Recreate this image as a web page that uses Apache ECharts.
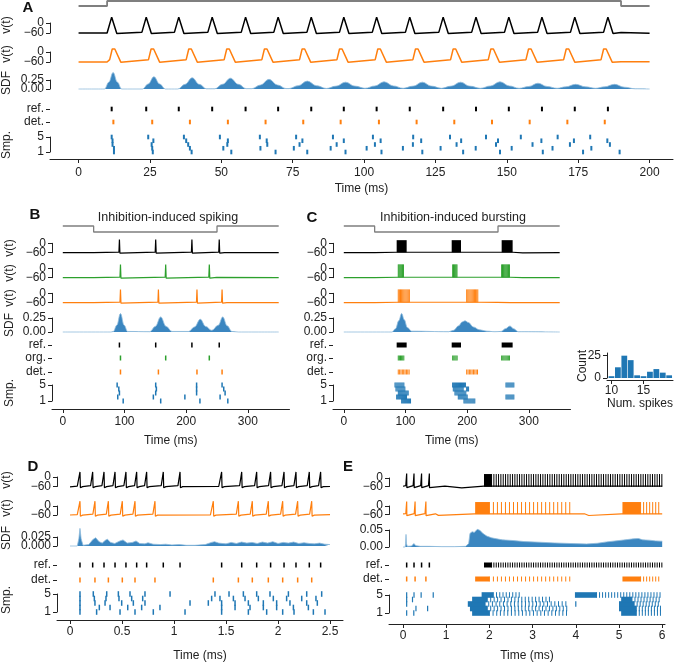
<!DOCTYPE html>
<html><head><meta charset="utf-8">
<script src="https://cdn.jsdelivr.net/npm/echarts@6/dist/echarts.min.js"></script>
<style>html,body{margin:0;padding:0;background:#fff}#c{width:685px;height:663px}</style>
</head><body><div id="c"></div>
<script>
const FONT='"Liberation Sans", Arial, Helvetica, sans-serif';
// ---------------- Panel A data ----------------
const A_stim=[[0,0],[10,0],[10,1],[190,1],[190,0],[200,0]];
const A_ref=[11.6,23.7,35.1,46.8,58.5,69.9,81.5,92.9,104.4,116.0,127.7,139.2,150.7,162.3,173.8,185.4];
const A_det=[12.2,25.8,39.0,52.3,65.5,78.7,91.8,105.2,118.4,131.6,144.8,158.0,171.2,184.3];
const A_smp5=[11.6,24.4,36.9,49.5,63.5,76.2,89.1,103.1,117.2,130.1,142.7,154.9,167.8,179.2];
const A_smp4=[11.9,26.2,37.7,52.3,65.9,78.4,92.9,105.8,120.0,134.0,146.9,162.1,173.5,185.2];
const A_smp3=[11.9,25.6,38.4,52.1,66.1,77.4,90.4,103.8,117.1,132.4,146.2,159.0,172.1,186.1];
const A_smp2=[12.4,25.8,39.0,50.7,63.7,75.4,88.3,100.9,113.6,126.8,139.1,151.7,166.0,179.6];
const A_smp1=[12.4,26.0,39.6,53.5,69.0,80.1,93.5,106.1,120.4,134.7,147.6,162.6,176.7,189.5];
const A_blackBase=[[0,-60],[10,-60],[190,-57],[190.3,-62],[200,-62]];
const A_blackShape=[[-1.5,-55],[0,35],[1.8,-63]];
const A_orangeBase=[[0,-60],[10,-60],[190,-58],[200,-58]];
const A_orangeShape=[[-1.3,-46],[-0.4,18],[0,30],[0.5,18],[2.6,-61]];
const A_sdf=[[0,0],[9.1,0],[10.6,0.19],[12.1,0.46],[13.6,0.19],[15.1,0],[22.4,0],[24.4,0.14],[26.4,0.34],[28.4,0.14],[30.4,0],[34.8,0],[37.3,0.13],[39.8,0.31],[42.3,0.13],[44.8,0.005],[47.7,0.005],[50.4,0.13],[53.2,0.30],[56,0.13],[58.7,0.01],[60.7,0.01],[63.7,0.11],[66.7,0.27],[69.7,0.11],[72.7,0.012],[73.6,0.012],[76.9,0.09],[80.1,0.22],[83.4,0.09],[86.8,0.015],[90.2,0.08],[93.5,0.19],[96.8,0.08],[100.3,0.02],[103.8,0.085],[107,0.2],[110.3,0.085],[113.7,0.02],[117.2,0.08],[120.4,0.19],[123.6,0.08],[127.1,0.02],[130.5,0.08],[133.8,0.19],[137,0.08],[140.7,0.02],[144.3,0.085],[147.6,0.2],[150.9,0.085],[154.3,0.02],[157.7,0.07],[160.9,0.16],[164.1,0.07],[167.6,0.02],[170.6,0.06],[174.1,0.13],[177.6,0.06],[181.1,0.02],[184.2,0.06],[187.7,0.13],[191.2,0.05],[195,0.005],[200,0]];
const A_xticks=[0,25,50,75,100,125,150,175,200];
// ---------------- Panel B data ----------------
const B_stim=[[0,1],[50,1],[50,0],[250,0],[250,1],[350,1]];
const B_ref=[91.8,150.6,209.3,253.6];
const B_org=[93.5,166.8,237.5];
const B_det=[93.5,155.0,217.5,258.2];
const B_smp5=[88.1,150.6,216.9,258.2];
const B_smp4=[90.8,151.7,216.9,260.9];
const B_smp3=[91.8,150.6,216.9,263.1];
const B_smp2=[89.1,146.8,197.9,255.0];
const B_smp1=[97.9,158.7,222.3,267.5];
const B_blackBase=[[0,-60],[50,-60],[50.5,-66],[262,-60],[350,-60]];
const B_greenBase=[[0,-60],[50,-60],[50.5,-66],[249.5,-58],[251,-60],[350,-60]];
const B_orangeBase=[[0,-60],[50,-60],[50.5,-66],[266,-60],[350,-60]];
const B_shape=[[-0.8,-56],[0,24],[0.8,-63]];
const B_sdf=[[0,0],[78,0],[82,0.01],[87.5,0.12],[93.5,0.33],[99.5,0.12],[105,0.01],[141,0.005],[150,0.1],[158.7,0.27],[167.5,0.1],[177,0.01],[204,0.01],[213.5,0.09],[222.9,0.227],[231.5,0.1],[241.5,0.03],[252,0.12],[259.3,0.27],[266.5,0.11],[274,0.01],[285,0],[350,0]];
const BC_xticks=[0,100,200,300];
// ---------------- Panel C data ----------------
const C_stim=[[0,1],[50,1],[50,0],[250,0],[250,1],[350,1]];
const C_ref=[[85.7,101.9],[174.9,190.0],[255.9,273.7]];
const C_org=[[88.3,97.6],[176.5,184.0],[255.9,269.4]];
const C_det=[[88.3,107.3],[199.2,218.0]];
const C_smp5=[[83.0,97.6],[176.4,198.0],[262.9,276.4]];
const C_smp4=[[84.6,99.2],[177.5,193.7],[199.1,203.5]];
const C_smp3=[[88.4,104.6],[180.2,199.1]];
const C_smp2=[[85.7,101.9],[185.6,200.2],[262.9,275.9]];
const C_smp1=[[93.8,108.9],[194.8,212.6]];
const C_blackBase=[[0,-60],[50,-60],[50.5,-65],[276,-66],[290,-61],[350,-60]];
const C_greenBase=[[0,-60],[50,-60],[50.5,-65],[272,-63],[290,-60],[350,-60]];
const C_orangeBase=[[0,-60],[50,-60],[50.5,-65],[249,-58],[250.5,-62],[270,-60],[350,-60]];
const C_sdf=[[0,0],[78,0],[84,0.06],[89,0.2],[93.8,0.33],[98,0.22],[103,0.08],[110,0.015],[170,0.005],[178,0.03],[186,0.11],[192,0.18],[196.4,0.2],[202,0.17],[210,0.09],[220,0.04],[232,0.015],[245,0.005],[255,0.01],[262,0.06],[269.4,0.107],[275,0.06],[283,0.005],[350,0]];
const H_bins=[10,11,12,13,14,15,16,17,18,19];
const H_counts=[2,12,25,20,3,2,7,10,6,3];
// ---------------- Panel D data ----------------
const D_ref=[0.096,0.218,0.327,0.433,0.538,0.641,0.737,0.897,1.058,1.458,1.651,1.795,1.929,2.058,2.173,2.301,2.41];
const D_det=[0.096,0.24,0.369,0.503,0.625,0.817,1.378,1.619,1.753,1.907,2.045,2.189,2.324];
const D_smp5=[0.096,0.224,0.353,0.465,0.577,0.721,0.962,1.394,1.529,1.667,1.795,1.923,2.1,2.276,2.42];
const D_smp4=[0.096,0.234,0.346,0.471,0.593,0.699,1.362,1.442,1.571,1.683,1.811,1.955,2.083,2.228,2.365];
const D_smp3=[0.096,0.24,0.337,0.497,0.609,0.721,1.154,1.33,1.458,1.587,1.715,1.859,1.987,2.115,2.276,2.378];
const D_smp2=[0.096,0.282,0.385,0.555,0.689,0.865,1.458,1.587,1.731,1.859,1.987,2.148,2.292];
const D_smp1=[0.096,0.256,0.481,0.625,0.801,1.106,1.458,1.715,1.891,2.045,2.154,2.34,2.452];
const D_blackBase=[[0,-62],[0.07,-58],[1.1,-60],[1.43,-60],[2.5,-60]];
const D_orangeBase=[[0,-60],[0.07,-58],[0.85,-60],[1.35,-60],[2.5,-58]];
const D_shape=[[-0.02,-54],[0,32],[0.004,-68],[0.025,-61]];
const D_sdf=[[0,0],[0.07,0],[0.085,0.02],[0.096,0.049],[0.107,0.02],[0.125,0.002],[0.18,0.004],[0.22,0.018],[0.247,0.023],[0.28,0.012],[0.31,0.008],[0.34,0.016],[0.36,0.019],[0.39,0.01],[0.43,0.007],[0.48,0.014],[0.51,0.017],[0.55,0.008],[0.6,0.01],[0.635,0.014],[0.67,0.007],[0.72,0.006],[0.75,0.009],[0.8,0.005],[0.87,0.004],[0.92,0.005],[0.98,0.003],[1.05,0.004],[1.12,0.002],[1.2,0.002],[1.3,0.004],[1.36,0.01],[1.39,0.012],[1.43,0.008],[1.5,0.006],[1.55,0.01],[1.6,0.007],[1.65,0.011],[1.7,0.008],[1.75,0.01],[1.8,0.007],[1.85,0.011],[1.9,0.008],[1.95,0.012],[2.0,0.007],[2.05,0.01],[2.1,0.008],[2.15,0.011],[2.2,0.007],[2.25,0.009],[2.3,0.007],[2.35,0.006],[2.4,0.008],[2.45,0.005],[2.5,0.004]];
const D_xticks=[0,0.5,1,1.5,2,2.5];
// ---------------- Panel E data ----------------
const E_refSpikes=[0.085,0.255,0.43,0.61];
const E_refBursts=[[1.875,2.05,0],[2.05,6.0,0.054]];
const E_detSpikes=[0.085,0.28,0.53];
const E_detBursts=[[1.67,2.0,0],[2.0,3.94,0.093],[5.08,5.5,0],[5.5,5.97,0.07]];
const E_smp5s=[0.085,0.255,0.42,0.70], E_smp5b=[[1.82,2.09,0],[2.09,2.75,0.075],[3.98,4.48,0],[4.48,5.95,0.07]];
const E_smp4s=[0.085,0.22], E_smp4b=[[1.6,1.95,0],[1.95,3.45,0.08],[5.05,5.3,0],[5.3,5.95,0.07]];
const E_smp3s=[0.085,4.0], E_smp3b=[[1.5,1.9,0],[1.9,3.85,0.085],[5.0,5.35,0],[5.35,5.97,0.07]];
const E_smp2s=[0.3,0.57], E_smp2b=[[1.55,1.95,0],[1.95,3.8,0.08],[5.0,5.4,0],[5.4,5.97,0.07]];
const E_smp1s=[0.085,0.25], E_smp1b=[[1.6,2.0,0],[2.0,3.85,0.085],[5.05,5.4,0],[5.4,5.97,0.07]];
const E_blackBase=[[0,-58],[0.97,-58],[0.975,-70],[1.36,-70],[1.875,-57],[6.0,-58]];
const E_orangeBase=[[0,-55],[0.75,-55],[0.76,-66],[0.82,-66],[1.65,-56],[3.95,-55],[4.2,-55],[4.21,-67],[4.3,-67],[5.06,-56],[6.0,-55]];
const E_sdf=[[0,0],[0.05,0],[0.06,0.01],[0.07,0.037],[0.08,0.01],[0.1,0.002],[0.2,0.003],[0.25,0.01],[0.3,0.004],[0.4,0.002],[0.6,0.002],[0.9,0.001],[1.2,0.001],[1.45,0.002],[1.52,0.01],[1.55,0.04],[1.6,0.045],[1.65,0.043],[1.72,0.052],[1.78,0.049],[1.85,0.04],[1.94,0.032],[2.05,0.027],[2.17,0.024],[2.3,0.021],[2.55,0.019],[2.8,0.016],[3.17,0.014],[3.5,0.012],[3.94,0.01],[4.25,0.009],[4.5,0.011],[4.71,0.015],[5.0,0.019],[5.2,0.022],[5.33,0.024],[5.45,0.025],[5.55,0.021],[5.7,0.02],[5.85,0.018],[6.0,0.017]];
const E_xticks=[0,1,2,3,4,5,6];

// ---------------- helpers ----------------
const BLUE='#1f77b4',ORANGE='#ff7f0e',GREEN='#2ca02c',BLACK='#000000',GRAY='#7f7f7f';
const AX={color:'#222',width:1};
const opt={animation:false,backgroundColor:'#fff',grid:[],xAxis:[],yAxis:[],series:[],graphic:[]};
const manual=[];
function grid(X,top,height,y,xa){
  const i=opt.grid.length;
  opt.grid.push({left:X.left,width:X.width,top:top,height:height});
  opt.xAxis.push(Object.assign({type:'value',gridIndex:i,min:X.min,max:X.max,show:false,splitLine:{show:false}},xa||{}));
  opt.yAxis.push(Object.assign({type:'value',gridIndex:i,splitLine:{show:false}},y));
  if(y.__vals) manual.push({g:i,x:X.min,vals:y.__vals,labs:y.__labs});
  return i;
}
function fmt(vals,labs){return v=>{const k=vals.findIndex(u=>Math.abs(u-v)<1e-9);return k>=0?labs[k]:'';};}
// y tick labels are placed from the axis scale (convertToPixel) after init, so close labels are all kept
function yAx(min,max,vals,labs,line){
  return {min,max,show:true,__vals:vals,__labs:labs,
    axisLine:{show:line!==false,onZero:false,lineStyle:AX},
    axisTick:{show:true,length:4,customValues:vals,lineStyle:AX},
    axisLabel:{show:false}};
}
function yHid(min,max){return {min,max,show:false};}
function xAx(offset,vals,labs,margin,nameGap,name){
  return {show:true,position:'bottom',offset,
    axisLine:{show:true,onZero:false,lineStyle:AX},
    axisTick:{show:true,length:4,customValues:vals,lineStyle:AX},
    axisLabel:{show:true,customValues:vals,margin,fontSize:12,fontFamily:FONT,color:'#222',hideOverlap:false,formatter:fmt(vals,labs)},
    name:name===undefined?'Time (ms)':name,nameLocation:'middle',nameGap,
    nameTextStyle:{fontSize:12,fontFamily:FONT,color:'#222'}};
}
function build(base,spikes,shape,bursts,bs){
  const pts=base.map(p=>p.slice());
  (spikes||[]).forEach(ts=>shape.forEach(s=>pts.push([ts+s[0],s[1]])));
  (bursts||[]).forEach(b=>{pts.push([b[0],bs.thr],[b[1],bs.thr],[b[1]+bs.d,bs.reset]);});
  pts.sort((a,b)=>a[0]-b[0]);
  return pts;
}
function lineS(i,data,color,w,extra){
  opt.series.push(Object.assign({type:'line',xAxisIndex:i,yAxisIndex:i,data,showSymbol:false,symbol:'none',clip:false,silent:true,lineStyle:{color,width:w},z:3},extra||{}));
}
function sdfS(i,data,smooth){
  lineS(i,data,'#8fbbdc',0.8,{smooth:smooth,smoothMonotone:'x',areaStyle:{color:'#3b86c0',opacity:1,origin:'start'}});
}
function ticksS(i,data,color,h,w){
  opt.series.push({type:'custom',xAxisIndex:i,yAxisIndex:i,clip:false,silent:true,data,z:4,
    renderItem:(p,api)=>{const c=api.coord([api.value(0),api.value(1)]);
      return {type:'line',shape:{x1:c[0],y1:c[1]-h,x2:c[0],y2:c[1]+h},style:{stroke:color,lineWidth:w}};}});
}
// data: [t0,t1,row,isi]  (isi 0 -> solid)
function rBurstS(i,data,color,h,w){
  opt.series.push({type:'custom',xAxisIndex:i,yAxisIndex:i,clip:false,silent:true,data,z:4,
    renderItem:(p,api)=>{
      const t0=api.value(0),t1=api.value(1),r=api.value(2),s=api.value(3);
      const a=api.coord([t0,r]),b=api.coord([t1,r]);
      if(!s) return {type:'rect',shape:{x:a[0],y:a[1]-h,width:Math.max(1,b[0]-a[0]),height:2*h},style:{fill:color}};
      const st=api.coord([t0+s,r])[0]-a[0];const ch=[];
      for(let x=a[0];x<=b[0]+0.01;x+=st) ch.push({type:'line',shape:{x1:x,y1:a[1]-h,x2:x,y2:a[1]+h},style:{stroke:color,lineWidth:w}});
      return {type:'group',children:ch};}});
}
// voltage bursts: [t0,t1,isi]
function vBurstS(i,data,color,lo,hi,w){
  opt.series.push({type:'custom',xAxisIndex:i,yAxisIndex:i,clip:false,silent:true,data,z:4,
    renderItem:(p,api)=>{
      const t0=api.value(0),t1=api.value(1),s=api.value(2);
      const a=api.coord([t0,hi]),b=api.coord([t1,lo]);
      if(!s) return {type:'rect',shape:{x:a[0],y:a[1],width:b[0]-a[0],height:b[1]-a[1]},style:{fill:color}};
      const st=api.coord([t0+s,hi])[0]-a[0];const ch=[];
      for(let x=a[0];x<=b[0]+0.01;x+=st) ch.push({type:'line',shape:{x1:x,y1:a[1],x2:x,y2:b[1]},style:{stroke:color,lineWidth:w}});
      return {type:'group',children:ch};}});
}
function txt(x,y,t,o){opt.graphic.push(Object.assign({type:'text',x,y,silent:true,style:{text:t,fontSize:12,fontFamily:FONT,fill:'#222',align:'center',verticalAlign:'middle'}},o||{}));}
function rtxt(x,y,t){txt(x,y,t,{rotation:Math.PI/2});}
function bold(x,y,t){txt(x,y,t,{style:{text:t,fontSize:15,fontWeight:'bold',fontFamily:FONT,fill:'#111',align:'center',verticalAlign:'middle'}});}
const V=['−60','0'];
let g;
// ---------------- Panel A ----------------
const XA={left:50,width:623,min:-10,max:208.2};
g=grid(XA,1,5,yHid(0,1)); lineS(g,A_stim,GRAY,1.8);
g=grid(XA,23,10,yAx(-60,0,[-60,0],V)); lineS(g,build(A_blackBase,A_ref,A_blackShape),BLACK,1.5);
g=grid(XA,52,10,yAx(-60,0,[-60,0],V)); lineS(g,build(A_orangeBase,A_det,A_orangeShape),ORANGE,1.5);
g=grid(XA,80,9,yAx(0,0.25,[0,0.25],['0.00','0.25'])); sdfS(g,A_sdf,0.4);
g=grid(XA,107,4,yAx(0,1,[0.5],['ref.'],false)); ticksS(g,A_ref.map(t=>[t,0.5]),BLACK,2.3,2);
g=grid(XA,120,4,yAx(0,1,[0.5],['det.'],false)); ticksS(g,A_det.map(t=>[t,0.5]),ORANGE,2.3,2);
g=grid(XA,137,15,yAx(1,5,[1,5],['1','5']),xAx(7,A_xticks,A_xticks.map(String),8,24));
ticksS(g,[].concat(A_smp1.map(t=>[t,1]),A_smp2.map(t=>[t,2]),A_smp3.map(t=>[t,3]),A_smp4.map(t=>[t,4]),A_smp5.map(t=>[t,5])),BLUE,2.3,2);
bold(28,8,'A'); rtxt(7,25,'v(t)'); rtxt(7,54,'v(t)'); rtxt(7,83,'SDF'); rtxt(7,145,'Smp.');
// ---------------- Panel B ----------------
const XB={left:52,width:237.5,min:-17.5,max:367.5};
g=grid(XB,226,6,yHid(0,1)); lineS(g,B_stim,GRAY,1.3);
g=grid(XB,243.3,9.4,yAx(-60,0,[-60,0],V)); lineS(g,build(B_blackBase,B_ref,B_shape),BLACK,1.2);
g=grid(XB,268.3,9.4,yAx(-60,0,[-60,0],V)); lineS(g,build(B_greenBase,B_org,B_shape),GREEN,1.2);
g=grid(XB,293.3,9.4,yAx(-60,0,[-60,0],V)); lineS(g,build(B_orangeBase,B_det,B_shape),ORANGE,1.2);
g=grid(XB,318,14,yAx(0,0.25,[0,0.25],['0.00','0.25'])); sdfS(g,B_sdf,0.4);
g=grid(XB,343,4,yAx(0,1,[0.5],['ref.'],false)); ticksS(g,B_ref.map(t=>[t,0.5]),BLACK,2.5,1.5);
g=grid(XB,356,4,yAx(0,1,[0.5],['org.'],false)); ticksS(g,B_org.map(t=>[t,0.5]),GREEN,2.5,1.5);
g=grid(XB,370,4,yAx(0,1,[0.5],['det.'],false)); ticksS(g,B_det.map(t=>[t,0.5]),ORANGE,2.5,1.5);
g=grid(XB,385,16,yAx(1,5,[1,5],['1','5']),xAx(8,BC_xticks,BC_xticks.map(String),7,26));
ticksS(g,[].concat(B_smp1.map(t=>[t,1]),B_smp2.map(t=>[t,2]),B_smp3.map(t=>[t,3]),B_smp4.map(t=>[t,4]),B_smp5.map(t=>[t,5])),BLUE,2.5,1.5);
bold(35,215,'B'); txt(168,218,'Inhibition-induced spiking',{style:{text:'Inhibition-induced spiking',fontSize:12.5,fontFamily:FONT,fill:'#222',align:'center',verticalAlign:'middle'}});
rtxt(10,248,'v(t)'); rtxt(10,273,'v(t)'); rtxt(10,298,'v(t)'); rtxt(10,325,'SDF'); rtxt(10,393,'Smp.');
// ---------------- Panel C ----------------
const XC={left:333,width:237.5,min:-17.5,max:367.5};
const cb={thr:-57,reset:-68,d:1.5};
g=grid(XC,226,6,yHid(0,1)); lineS(g,C_stim,GRAY,1.3);
g=grid(XC,243.3,9.4,yAx(-60,0,[-60,0],V)); lineS(g,build(C_blackBase,[],[],C_ref,cb),BLACK,1.2); vBurstS(g,C_ref.map(b=>[b[0],b[1],0]),BLACK,-58,20,1);
g=grid(XC,268.3,9.4,yAx(-60,0,[-60,0],V)); lineS(g,build(C_greenBase,[],[],C_org,cb),GREEN,1.2); vBurstS(g,C_org.map(b=>[b[0],b[1],1.4]),GREEN,-58,25,1);
g=grid(XC,293.3,9.4,yAx(-60,0,[-60,0],V)); lineS(g,build(C_orangeBase,[],[],C_det,cb),ORANGE,1.2); vBurstS(g,C_det.map(b=>[b[0],b[1],1.8]),ORANGE,-58,25,1);
g=grid(XC,318,14,yAx(0,0.25,[0,0.25],['0.00','0.25'])); sdfS(g,C_sdf,0.4);
g=grid(XC,343,4,yAx(0,1,[0.5],['ref.'],false)); rBurstS(g,C_ref.map(b=>[b[0],b[1],0.5,0]),BLACK,2.5,1);
g=grid(XC,356,4,yAx(0,1,[0.5],['org.'],false)); rBurstS(g,C_org.map(b=>[b[0],b[1],0.5,1.8]),GREEN,2.5,1);
g=grid(XC,370,4,yAx(0,1,[0.5],['det.'],false)); rBurstS(g,C_det.map(b=>[b[0],b[1],0.5,2.2]),ORANGE,2.5,1);
g=grid(XC,385,16,yAx(1,5,[1,5],['1','5']),xAx(8,BC_xticks,BC_xticks.map(String),7,26));
rBurstS(g,[].concat(C_smp1.map(b=>[b[0],b[1],1,1.6]),C_smp2.map(b=>[b[0],b[1],2,1.6]),C_smp3.map(b=>[b[0],b[1],3,1.6]),C_smp4.map(b=>[b[0],b[1],4,1.6]),C_smp5.map(b=>[b[0],b[1],5,1.6])),BLUE,2.5,1);
bold(312,218,'C'); txt(453,218,'Inhibition-induced bursting',{style:{text:'Inhibition-induced bursting',fontSize:12.5,fontFamily:FONT,fill:'#222',align:'center',verticalAlign:'middle'}});
// histogram inset
g=grid({left:607,width:66,min:9.3,max:19.6},353,25,yAx(0,28,[0,25],['0','25']),xAx(2,[10,15],['10','15'],5,16,'Num. spikes'));
opt.series.push({type:'custom',xAxisIndex:g,yAxisIndex:g,clip:false,silent:true,data:H_bins.map((b,k)=>[b,H_counts[k]]),
  renderItem:(p,api)=>{const a=api.coord([api.value(0)-0.45,api.value(1)]),b=api.coord([api.value(0)+0.45,0]);
    return {type:'rect',shape:{x:a[0],y:a[1],width:b[0]-a[0],height:b[1]-a[1]},style:{fill:BLUE}};}});
rtxt(583,366,'Count');
// ---------------- Panel D ----------------
const XD={left:57,width:286,min:-0.125,max:2.625};
g=grid(XD,477,9.5,yAx(-60,0,[-60,0],V)); lineS(g,build(D_blackBase,D_ref,D_shape),BLACK,1.2);
g=grid(XD,506,9,yAx(-60,0,[-60,0],V)); lineS(g,build(D_orangeBase,D_det,D_shape),ORANGE,1.2);
g=grid(XD,537,9,yAx(0,0.025,[0,0.025],['0.000','0.025'])); sdfS(g,D_sdf,false);
g=grid(XD,563,4,yAx(0,1,[0.5],['ref.'],false)); ticksS(g,D_ref.map(t=>[t,0.5]),BLACK,2.5,1.5);
g=grid(XD,578,4,yAx(0,1,[0.5],['det.'],false)); ticksS(g,D_det.map(t=>[t,0.5]),ORANGE,2.5,1.5);
g=grid(XD,594,19,yAx(1,5,[1,5],['1','5']),xAx(8,D_xticks,['0','0.5','1','1.5','2','2.5'],6,30));
ticksS(g,[].concat(D_smp1.map(t=>[t,1]),D_smp2.map(t=>[t,2]),D_smp3.map(t=>[t,3]),D_smp4.map(t=>[t,4]),D_smp5.map(t=>[t,5])),BLUE,2.8,1.5);
bold(33,467,'D'); rtxt(7,480,'v(t)'); rtxt(7,508,'v(t)'); rtxt(7,538,'SDF'); rtxt(7,600,'Smp.');
// ---------------- Panel E ----------------
const XE={left:389,width:276,min:-0.324,max:6.065};
g=grid(XE,478,8.5,yAx(-60,0,[-60,0],V)); lineS(g,build(E_blackBase,E_refSpikes,D_shape),BLACK,1.2); vBurstS(g,E_refBursts,BLACK,-62,28,1);
g=grid(XE,506,8.5,yAx(-60,0,[-60,0],V)); lineS(g,build(E_orangeBase,E_detSpikes,D_shape),ORANGE,1.2); vBurstS(g,E_detBursts,ORANGE,-57,28,1);
g=grid(XE,530,17,yAx(0,0.05,[0,0.05],['0.00','0.05'])); sdfS(g,E_sdf,false);
g=grid(XE,563,4,yAx(0,1,[0.5],['ref.'],false)); ticksS(g,E_refSpikes.map(t=>[t,0.5]),BLACK,2.5,1.5); rBurstS(g,E_refBursts.map(b=>[b[0],b[1],0.5,b[2]]),BLACK,2.5,1);
g=grid(XE,577,4,yAx(0,1,[0.5],['det.'],false)); ticksS(g,E_detSpikes.map(t=>[t,0.5]),ORANGE,2.5,1.5); rBurstS(g,E_detBursts.map(b=>[b[0],b[1],0.5,b[2]]),ORANGE,2.5,1);
g=grid(XE,595,19,yAx(1,5,[1,5],['1','5']),xAx(11,E_xticks,E_xticks.map(String),6,26));
const ES=[E_smp1s,E_smp2s,E_smp3s,E_smp4s,E_smp5s], EB=[E_smp1b,E_smp2b,E_smp3b,E_smp4b,E_smp5b];
ticksS(g,[].concat(...ES.map((a,k)=>a.map(t=>[t,k+1]))),BLUE,2.8,1.2);
rBurstS(g,[].concat(...EB.map((a,k)=>a.map(b=>[b[0],b[1],k+1,b[2]]))),BLUE,2.8,1);
bold(348,467,'E');

const ch=echarts.init(document.getElementById('c'),null,{renderer:'canvas'});
ch.setOption(opt);
// y tick labels positioned through each axis' own scale
manual.forEach(m=>{
  m.vals.forEach((v,k)=>{
    const p=ch.convertToPixel({gridIndex:m.g},[m.x,v]);
    opt.graphic.push({type:'text',x:p[0]-6,y:p[1],silent:true,style:{text:m.labs[k],fontSize:12,fontFamily:FONT,fill:'#222',align:'right',verticalAlign:'middle'}});
  });
});
ch.setOption({graphic:opt.graphic});
</script></body></html>
